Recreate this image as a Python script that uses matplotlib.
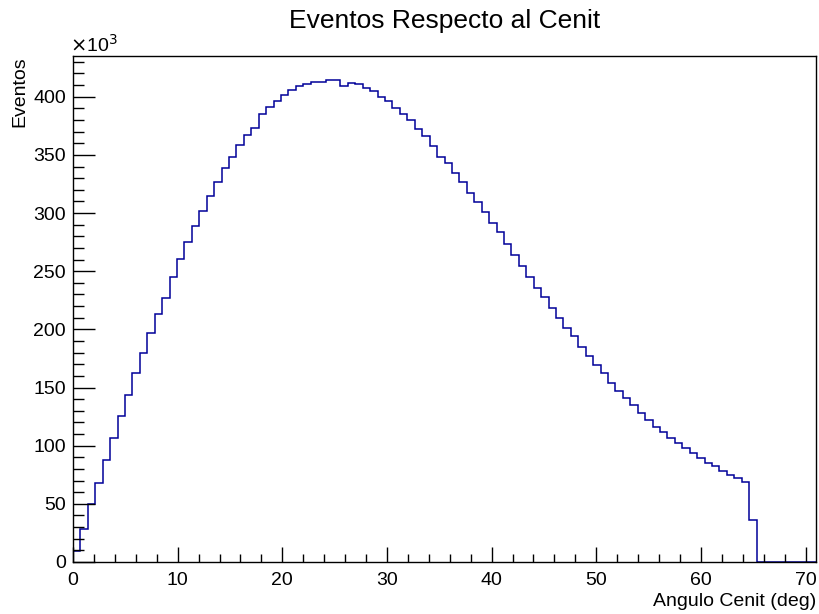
import matplotlib
matplotlib.use('Agg')
import matplotlib.pyplot as plt
import numpy as np
from matplotlib.ticker import MultipleLocator, FuncFormatter

# Histogram: 100 bins from 0 to 71 deg, counts (events)
x_min, x_max, n_bins = 0.0, 71.0, 100
counts = [
    9500, 28700, 49700, 68300, 87500, 106500, 125600, 143500, 162400, 179600,
    196500, 213400, 227200, 244800, 260200, 275400, 289200, 302100, 315000, 326500,
    338800, 348500, 358600, 367200, 373500, 385000, 391300, 396200, 401600, 405700,
    409400, 411000, 412800, 412800, 414000, 414000, 409400, 412000, 410500, 407700,
    404500, 399900, 395900, 390200, 385000, 380100, 372400, 366400, 358000, 348500,
    343400, 334800, 326800, 317600, 309300, 301200, 291800, 283400, 273100, 264200,
    254500, 244800, 235800, 227500, 218600, 210000, 201400, 194200, 184800, 177000,
    169300, 162100, 154100, 146600, 141100, 135100, 128200, 122200, 116200, 111900,
    106700, 102400, 97800, 93800, 89000, 84900, 82100, 78300, 74600, 71800,
    68600, 35900, 0, 0, 0, 0, 0, 0, 0, 0,
]

title = 'Eventos Respecto al Cenit'
xlabel = 'Angulo Cenit (deg)'
ylabel = 'Eventos'

plt.rcParams['font.family'] = ['Liberation Sans', 'DejaVu Sans']

fig = plt.figure(figsize=(8.19, 6.14), dpi=100)
ax = fig.add_axes([73 / 819, 52 / 614, 743 / 819, 506 / 614])

edges = np.linspace(x_min, x_max, n_bins + 1)
ax.stairs(np.array(counts) / 1000.0, edges, color='#000099', linewidth=1.1)

ax.set_xlim(x_min, x_max)
ax.set_ylim(0, 435)

ax.xaxis.set_major_locator(MultipleLocator(10))
ax.xaxis.set_minor_locator(MultipleLocator(2))
ax.yaxis.set_major_locator(MultipleLocator(50))
ax.yaxis.set_minor_locator(MultipleLocator(10))
ax.yaxis.set_major_formatter(FuncFormatter(lambda v, p: f'{v:g}'))

ax.tick_params(axis='both', which='both', direction='in', top=False, right=False,
               labelsize=14, colors='black', width=1)
ax.tick_params(axis='x', which='major', length=11, pad=7)
ax.tick_params(axis='x', which='minor', length=5.5)
ax.tick_params(axis='y', which='major', length=16, pad=5)
ax.tick_params(axis='y', which='minor', length=8)
for s in ax.spines.values():
    s.set_linewidth(1)

fig.text(445 / 819, 1 - 21 / 614, title, ha='center', va='center', fontsize=19)
fig.text(816 / 819, 1 - 606 / 614, xlabel, ha='right', va='baseline', fontsize=14)
fig.text(20 / 819, 1 - 56 / 614, ylabel, ha='center', va='top', rotation=90, fontsize=14)
fig.text(70 / 819, 1 - 52 / 614, r'$\times$10$^{3}$', ha='left', va='baseline', fontsize=14)

fig.savefig('out.png', dpi=100)
